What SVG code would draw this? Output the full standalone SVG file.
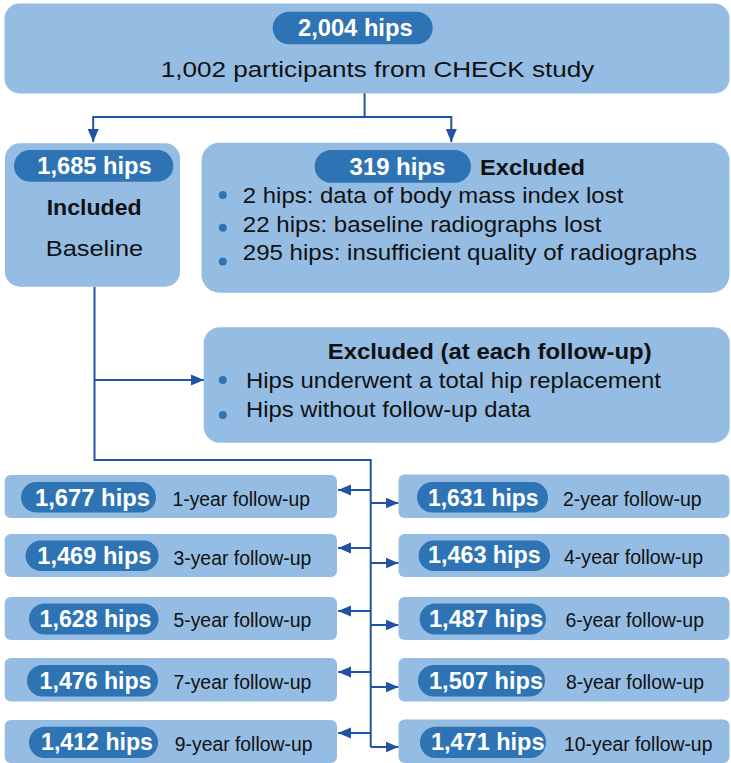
<svg xmlns="http://www.w3.org/2000/svg" width="731" height="763" viewBox="0 0 731 763">
<defs>
<style>
.box{fill:#95BDE4;}
.pill{fill:#2E74B5;}
.pt{font-family:"Liberation Sans",Arial,sans-serif;font-weight:bold;fill:#fff;font-size:23px;}
.t{font-family:"Liberation Sans",Arial,sans-serif;fill:#111;font-size:22.5px;}
.tb{font-family:"Liberation Sans",Arial,sans-serif;font-weight:bold;fill:#111;font-size:22.5px;}
.fl{font-family:"Liberation Sans",Arial,sans-serif;fill:#111;font-size:20.5px;}
.dot{fill:#2E74B5;}
.ln{stroke:#2153A4;stroke-width:2;fill:none;}
</style>
<marker id="ah" markerUnits="userSpaceOnUse" markerWidth="13" markerHeight="12" refX="13" refY="6" orient="auto">
<path d="M0,0.5 L13,6 L0,11.5 z" fill="#2153A4"/>
</marker>
</defs>
<rect width="731" height="763" fill="#fff"/>

<g id="connectors">
<path class="ln" d="M364.6,93 V117 M93.2,117 H451.3"/>
<line class="ln" x1="93.2" y1="116" x2="93.2" y2="142" marker-end="url(#ah)"/>
<line class="ln" x1="451.3" y1="116" x2="451.3" y2="142" marker-end="url(#ah)"/>
<path class="ln" d="M94.5,287 V460 H370.7 V747"/>
<line class="ln" x1="94.5" y1="380" x2="204" y2="380" marker-end="url(#ah)"/>
<line class="ln" x1="370.7" y1="490" x2="338" y2="490" marker-end="url(#ah)"/>
<line class="ln" x1="370.7" y1="503" x2="398.5" y2="503" marker-end="url(#ah)"/>
<line class="ln" x1="370.7" y1="548" x2="338" y2="548" marker-end="url(#ah)"/>
<line class="ln" x1="370.7" y1="563" x2="398.5" y2="563" marker-end="url(#ah)"/>
<line class="ln" x1="370.7" y1="611" x2="338" y2="611" marker-end="url(#ah)"/>
<line class="ln" x1="370.7" y1="625" x2="398.5" y2="625" marker-end="url(#ah)"/>
<line class="ln" x1="370.7" y1="672" x2="338" y2="672" marker-end="url(#ah)"/>
<line class="ln" x1="370.7" y1="687" x2="398.5" y2="687" marker-end="url(#ah)"/>
<line class="ln" x1="370.7" y1="733" x2="338" y2="733" marker-end="url(#ah)"/>
<line class="ln" x1="370.7" y1="747" x2="398.5" y2="747" marker-end="url(#ah)"/>
</g>

<g id="top">
<rect class="box" x="4.5" y="3.5" width="725" height="90" rx="15"/>
<rect class="pill" x="272.7" y="11.7" width="160" height="32.6" rx="16.3"/>
<text class="pt" x="298" y="36.3" textLength="114.6" lengthAdjust="spacingAndGlyphs">2,004 hips</text>
<text class="t" x="160.8" y="77" font-size="25.8" textLength="433.6" lengthAdjust="spacingAndGlyphs">1,002 participants from CHECK study</text>
</g>

<g id="included">
<rect class="box" x="5" y="143.3" width="175" height="143.4" rx="15"/>
<rect class="pill" x="14" y="150" width="159.3" height="31.7" rx="15.8"/>
<text class="pt" x="37.3" y="174.3" textLength="114.4" lengthAdjust="spacingAndGlyphs">1,685 hips</text>
<text class="tb" x="46.7" y="215" textLength="95" lengthAdjust="spacingAndGlyphs">Included</text>
<text class="t" x="45.7" y="255.7" font-size="25.5" textLength="97.5" lengthAdjust="spacingAndGlyphs">Baseline</text>
</g>

<g id="excluded">
<rect class="box" x="201.5" y="142.7" width="528" height="150" rx="18"/>
<rect class="pill" x="314.7" y="150" width="156.2" height="32.7" rx="16.3"/>
<text class="pt" x="349.6" y="174.8" textLength="95.6" lengthAdjust="spacingAndGlyphs">319 hips</text>
<text class="tb" x="480" y="174.8" textLength="105" lengthAdjust="spacingAndGlyphs">Excluded</text>
<circle class="dot" cx="222.8" cy="195" r="4"/>
<circle class="dot" cx="222.8" cy="227.7" r="4"/>
<circle class="dot" cx="222.8" cy="261.5" r="4"/>
<text class="t" x="242.8" y="203.3" textLength="380.5" lengthAdjust="spacingAndGlyphs">2 hips: data of body mass index lost</text>
<text class="t" x="242.8" y="232.3" textLength="358.6" lengthAdjust="spacingAndGlyphs">22 hips: baseline radiographs lost</text>
<text class="t" x="242.8" y="260.3" textLength="454.2" lengthAdjust="spacingAndGlyphs">295 hips: insufficient quality of radiographs</text>
</g>

<g id="excluded-followup">
<rect class="box" x="203.7" y="327.3" width="526" height="115.4" rx="16"/>
<text class="tb" x="327.7" y="358.5" textLength="324" lengthAdjust="spacingAndGlyphs">Excluded (at each follow-up)</text>
<circle class="dot" cx="222.8" cy="380" r="4"/>
<circle class="dot" cx="222.8" cy="415" r="4"/>
<text class="t" x="246" y="388.3" textLength="415" lengthAdjust="spacingAndGlyphs">Hips underwent a total hip replacement</text>
<text class="t" x="246" y="417" textLength="284.5" lengthAdjust="spacingAndGlyphs">Hips without follow-up data</text>
</g>

<g id="fu1">
<rect class="box" x="4.7" y="475" width="332.3" height="43" rx="6"/>
<rect class="pill" x="21" y="482" width="135" height="30.5" rx="15.2"/>
<text class="pt" x="35" y="506" textLength="115" lengthAdjust="spacingAndGlyphs">1,677 hips</text>
<text class="fl" x="172.5" y="506" textLength="137.5" lengthAdjust="spacingAndGlyphs">1-year follow-up</text>
</g>
<g id="fu2">
<rect class="box" x="398.5" y="474.5" width="331" height="43.5" rx="6"/>
<rect class="pill" x="417" y="482" width="131" height="30.5" rx="15.2"/>
<text class="pt" x="428" y="505.5" textLength="110.5" lengthAdjust="spacingAndGlyphs">1,631 hips</text>
<text class="fl" x="563" y="506" textLength="138.6" lengthAdjust="spacingAndGlyphs">2-year follow-up</text>
</g>
<g id="fu3">
<rect class="box" x="4.7" y="534" width="332.3" height="43" rx="6"/>
<rect class="pill" x="25.6" y="540.5" width="133" height="30.5" rx="15.2"/>
<text class="pt" x="37.3" y="564" textLength="114.2" lengthAdjust="spacingAndGlyphs">1,469 hips</text>
<text class="fl" x="173.4" y="564.5" textLength="138" lengthAdjust="spacingAndGlyphs">3-year follow-up</text>
</g>
<g id="fu4">
<rect class="box" x="398.5" y="534" width="331" height="43" rx="6"/>
<rect class="pill" x="418.6" y="540.5" width="131.4" height="30.5" rx="15.2"/>
<text class="pt" x="428" y="563" textLength="112.8" lengthAdjust="spacingAndGlyphs">1,463 hips</text>
<text class="fl" x="564" y="564" textLength="139" lengthAdjust="spacingAndGlyphs">4-year follow-up</text>
</g>
<g id="fu5">
<rect class="box" x="4.7" y="597" width="332.3" height="43" rx="6"/>
<rect class="pill" x="29" y="603.5" width="129.5" height="31" rx="15.5"/>
<text class="pt" x="39.6" y="627" textLength="111.9" lengthAdjust="spacingAndGlyphs">1,628 hips</text>
<text class="fl" x="173.4" y="627" textLength="138" lengthAdjust="spacingAndGlyphs">5-year follow-up</text>
</g>
<g id="fu6">
<rect class="box" x="398.5" y="597" width="331" height="43" rx="6"/>
<rect class="pill" x="419.6" y="603.5" width="126.4" height="31" rx="15.5"/>
<text class="pt" x="429" y="627" textLength="114" lengthAdjust="spacingAndGlyphs">1,487 hips</text>
<text class="fl" x="565.5" y="627" textLength="138.5" lengthAdjust="spacingAndGlyphs">6-year follow-up</text>
</g>
<g id="fu7">
<rect class="box" x="4.7" y="658" width="332.3" height="43.5" rx="6"/>
<rect class="pill" x="27" y="665" width="131" height="31.5" rx="15.7"/>
<text class="pt" x="39.6" y="688.5" textLength="111.9" lengthAdjust="spacingAndGlyphs">1,476 hips</text>
<text class="fl" x="173.4" y="688.5" textLength="138" lengthAdjust="spacingAndGlyphs">7-year follow-up</text>
</g>
<g id="fu8">
<rect class="box" x="398.5" y="658" width="331" height="43.5" rx="6"/>
<rect class="pill" x="418" y="665" width="127" height="31.5" rx="15.7"/>
<text class="pt" x="429" y="688.5" textLength="114" lengthAdjust="spacingAndGlyphs">1,507 hips</text>
<text class="fl" x="566" y="688.5" textLength="138" lengthAdjust="spacingAndGlyphs">8-year follow-up</text>
</g>
<g id="fu9">
<rect class="box" x="4.7" y="720" width="332.3" height="43" rx="6"/>
<rect class="pill" x="29" y="726.7" width="129" height="31.3" rx="15.6"/>
<text class="pt" x="41" y="750" textLength="112" lengthAdjust="spacingAndGlyphs">1,412 hips</text>
<text class="fl" x="174.8" y="750.5" textLength="137.6" lengthAdjust="spacingAndGlyphs">9-year follow-up</text>
</g>
<g id="fu10">
<rect class="box" x="398.5" y="719.5" width="331" height="43.5" rx="6"/>
<rect class="pill" x="420" y="726.7" width="126" height="31.3" rx="15.6"/>
<text class="pt" x="431" y="750" textLength="113.5" lengthAdjust="spacingAndGlyphs">1,471 hips</text>
<text class="fl" x="564" y="750.5" textLength="148.4" lengthAdjust="spacingAndGlyphs">10-year follow-up</text>
</g>
</svg>
